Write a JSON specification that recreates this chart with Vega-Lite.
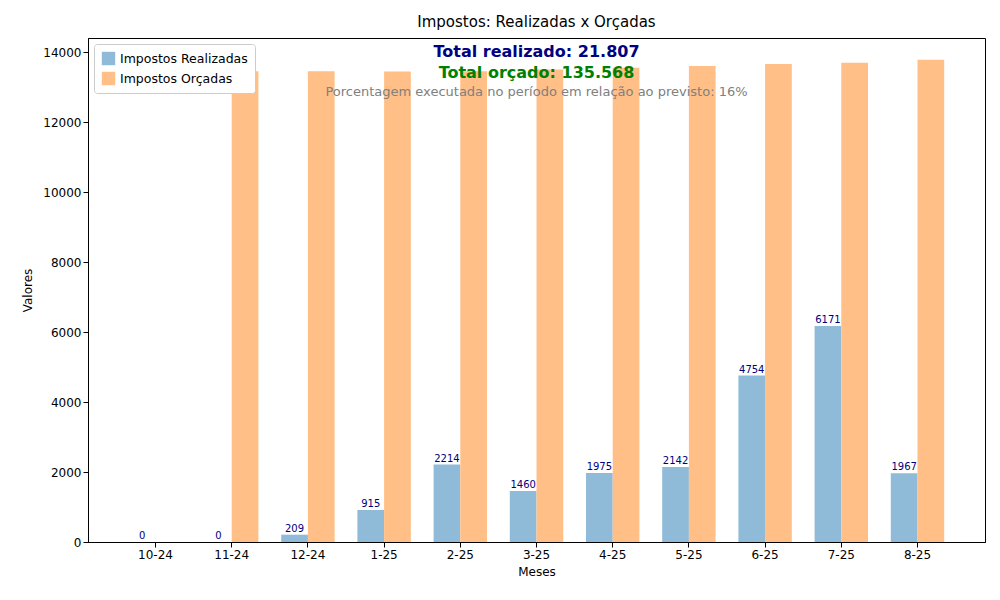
{
  "$schema": "https://vega.github.io/schema/vega-lite/v6.json",
  "width": 897,
  "height": 504,
  "autosize": "none",
  "padding": {"left": 88, "top": 38, "right": 15, "bottom": 58},
  "config": {
    "font": "DejaVu Sans",
    "view": {"stroke": "black"},
    "axis": {"grid": false, "domainColor": "black", "tickColor": "black", "labelColor": "black", "labelFontSize": 12, "titleFontSize": 12, "titleFontWeight": "normal", "titleColor": "black"}
  },
  "title": {"text": "Impostos: Realizadas x Orçadas", "fontSize": 15, "fontWeight": "normal", "offset": 8, "color": "black"},
  "data": {
    "values": [
      {"mes": "10-24", "serie": "Impostos Realizadas", "valor": 0},
      {"mes": "11-24", "serie": "Impostos Realizadas", "valor": 0},
      {"mes": "12-24", "serie": "Impostos Realizadas", "valor": 209},
      {"mes": "1-25", "serie": "Impostos Realizadas", "valor": 915},
      {"mes": "2-25", "serie": "Impostos Realizadas", "valor": 2214},
      {"mes": "3-25", "serie": "Impostos Realizadas", "valor": 1460},
      {"mes": "4-25", "serie": "Impostos Realizadas", "valor": 1975},
      {"mes": "5-25", "serie": "Impostos Realizadas", "valor": 2142},
      {"mes": "6-25", "serie": "Impostos Realizadas", "valor": 4754},
      {"mes": "7-25", "serie": "Impostos Realizadas", "valor": 6171},
      {"mes": "8-25", "serie": "Impostos Realizadas", "valor": 1967},
      {"mes": "10-24", "serie": "Impostos Orçadas", "valor": 0},
      {"mes": "11-24", "serie": "Impostos Orçadas", "valor": 13448},
      {"mes": "12-24", "serie": "Impostos Orçadas", "valor": 13450},
      {"mes": "1-25", "serie": "Impostos Orçadas", "valor": 13440},
      {"mes": "2-25", "serie": "Impostos Orçadas", "valor": 13450},
      {"mes": "3-25", "serie": "Impostos Orçadas", "valor": 13500},
      {"mes": "4-25", "serie": "Impostos Orçadas", "valor": 13550},
      {"mes": "5-25", "serie": "Impostos Orçadas", "valor": 13600},
      {"mes": "6-25", "serie": "Impostos Orçadas", "valor": 13660},
      {"mes": "7-25", "serie": "Impostos Orçadas", "valor": 13690},
      {"mes": "8-25", "serie": "Impostos Orçadas", "valor": 13780}
    ]
  },
  "encoding": {
    "x": {"field": "mes", "type": "nominal", "sort": null, "title": "Meses",
      "scale": {"paddingInner": 0, "paddingOuter": 0.386},
      "axis": {"labelAngle": 0, "titlePadding": 6}},
    "xOffset": {"field": "serie", "type": "nominal", "sort": ["Impostos Realizadas", "Impostos Orçadas"], "scale": {"paddingInner": 0, "paddingOuter": 0.427}},
    "y": {"field": "valor", "type": "quantitative", "title": "Valores",
      "scale": {"domain": [0, 14400], "nice": false},
      "axis": {"values": [0, 2000, 4000, 6000, 8000, 10000, 12000, 14000], "format": "d", "titlePadding": 8}}
  },
  "layer": [
    {
      "mark": {"type": "bar"},
      "encoding": {
        "color": {"field": "serie", "type": "nominal", "sort": ["Impostos Realizadas", "Impostos Orçadas"],
          "scale": {"range": ["#8fbbd9", "#ffbf86"]},
          "legend": {"title": null, "orient": "top-left", "symbolType": "square", "symbolSize": 180, "labelFontSize": 12.5, "strokeColor": "#cccccc", "fillColor": "white", "padding": 7, "cornerRadius": 3, "offset": 6, "rowPadding": 5}}
      }
    },
    {
      "transform": [{"filter": "datum.serie == 'Impostos Realizadas'"}],
      "mark": {"type": "text", "baseline": "bottom", "dy": -1, "fontSize": 10, "color": "#000080"},
      "encoding": {"text": {"field": "valor", "type": "quantitative", "format": "d"}}
    },
    {
      "data": {"values": [
        {"t": "Total realizado: 21.807", "y": 13990, "c": "navy"},
        {"t": "Total orçado: 135.568", "y": 13390, "c": "green"}
      ]},
      "mark": {"type": "text", "fontSize": 16, "fontWeight": "bold", "baseline": "middle"},
      "encoding": {
        "x": {"value": {"expr": "width/2"}},
        "xOffset": null,
        "y": {"field": "y", "type": "quantitative"},
        "text": {"field": "t"},
        "color": {"field": "c", "type": "nominal", "scale": null}
      }
    },
    {
      "data": {"values": [{"t": "Porcentagem executada no período em relação ao previsto: 16%", "y": 12850}]},
      "mark": {"type": "text", "fontSize": 13, "color": "gray", "baseline": "middle"},
      "encoding": {
        "x": {"value": {"expr": "width/2"}},
        "xOffset": null,
        "y": {"field": "y", "type": "quantitative"},
        "text": {"field": "t"}
      }
    }
  ]
}
